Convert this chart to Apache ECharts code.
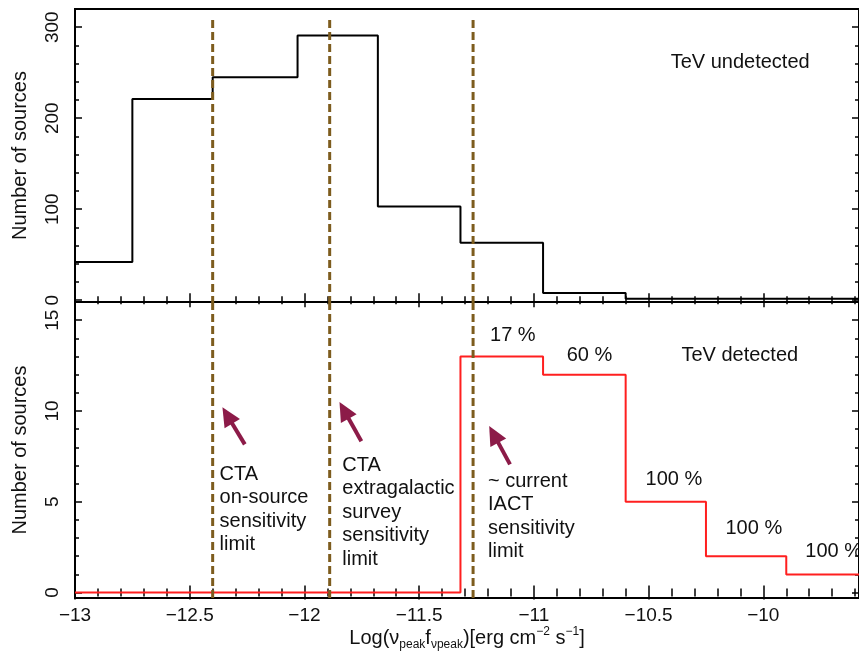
<!DOCTYPE html>
<html lang="en">
<head>
<meta charset="UTF-8">
<title>TeV detected / undetected</title>
<style>
body, div { margin: 0; padding: 0; }
#echart { width: 859px; height: 652px; background: #fff; }
</style>
</head>
<body>
<div id="echart"></div>
<script src="https://cdn.jsdelivr.net/npm/echarts@6/dist/echarts.min.js"></script>
<script>
// histogram bin edges (log nu f_nu) and counts
var undetectedEdges = [-13, -12.75, -12.4, -12.03, -11.68, -11.32, -10.96, -10.6, -9.5];
var undetectedCounts = [42, 221, 245, 291, 103, 63, 8, 1.5, 1.5];
var detectedEdges = [-13, -11.32, -10.96, -10.6, -10.25, -9.9, -9.5];
var detectedCounts = [0, 13, 12, 5, 2, 1, 1];

// sensitivity limits (dashed verticals)
var limitX = [-12.4, -11.89, -11.265];
var limitText = ['CTA\non-source\nsensitivity\nlimit',
                 'CTA\nextragalactic\nsurvey\nsensitivity\nlimit',
                 '~ current\nIACT\nsensitivity\nlimit'];

// fraction of sources detected per bin
var percentText = ['17 %', '60 %', '100 %', '100 %', '100 %'];

// tick labels
var xTicks = [-13, -12.5, -12, -11.5, -11, -10.5, -10];
var topYTicks = [0, 100, 200, 300];
var bottomYTicks = [0, 5, 10, 15];

// ---- layout bits (positions in data units) ----
var X_RANGE = [-13, -9.583];
var TOP_RANGE = [-2, 320];
var BOT_RANGE = [-0.3, 16];
var limitTextPos = [[-12.37, 7.17], [-11.835, 7.67], [-11.2, 6.78]];
var percentPos = [[-11.191, 14.78], [-10.857, 13.68], [-10.513, 6.89], [-10.165, 4.19], [-9.817, 2.92]];
var arrowFrom = [[-12.26, 8.16], [-11.752, 8.33], [-11.104, 7.06]];
var arrowTo = [[-12.336, 9.75], [-11.827, 10.03], [-11.175, 8.71]];

function minorTicks(lo, hi, step, majors) {
    var out = [];
    for (var v = lo; v <= hi + 1e-9; v += step) {
        var r = Math.round(v * 1000) / 1000;
        if (majors.indexOf(r) < 0) out.push(r);
    }
    return out;
}
var xMinor = minorTicks(-13, -9.6, 0.1, xTicks.concat([-9.5]));
var topMinor = minorTicks(0, 320, 20, topYTicks);
var botMinor = minorTicks(0, 16, 1, bottomYTicks);

var FONT = 'Liberation Sans';
var INK = '#111';
var minus = function (v) { return String(v).replace('-', '\u2212'); };

function tickAxis(grid, pos, range, values, len, extra) {
    var a = {
        type: 'value', gridIndex: grid, position: pos,
        min: range[0], max: range[1],
        axisLine: { show: false },
        splitLine: { show: false },
        axisTick: { show: true, inside: true, length: len, customValues: values,
                    lineStyle: { color: '#000', width: 1.5 } },
        axisLabel: { show: false }
    };
    return Object.assign(a, extra || {});
}

var xAxes = [], yAxes = [];
[0, 1].forEach(function (g) {
    var xLab = g === 1 ? {
        axisLabel: { show: true, customValues: xTicks, formatter: minus, fontFamily: FONT,
                     fontSize: 19, color: INK, margin: 8 },
        name: '{a|Log(\u03bd}{s|peak}{a|f}{s|\u03bdpeak}{a|)[erg cm}{p|\u22122}{a| s}{p|\u22121}{a|]}',
        nameLocation: 'middle', nameGap: 27,
        nameTextStyle: { rich: {
            a: { fontFamily: FONT, fontSize: 20, color: INK, lineHeight: 25 },
            s: { fontFamily: FONT, fontSize: 12, color: INK, lineHeight: 25, verticalAlign: 'bottom' },
            p: { fontFamily: FONT, fontSize: 12, color: INK, lineHeight: 25, verticalAlign: 'top' }
        } }
    } : {};
    xAxes.push(tickAxis(g, 'bottom', X_RANGE, xTicks, 7, xLab));
    xAxes.push(tickAxis(g, 'bottom', X_RANGE, xMinor, 4));
    xAxes.push(tickAxis(g, 'top', X_RANGE, xTicks, 7));
    xAxes.push(tickAxis(g, 'top', X_RANGE, xMinor, 4));

    var range = g === 0 ? TOP_RANGE : BOT_RANGE;
    var majors = g === 0 ? topYTicks : bottomYTicks;
    var minors = g === 0 ? topMinor : botMinor;
    yAxes.push(tickAxis(g, 'left', range, majors, 7, {
        axisLabel: { show: true, customValues: majors, rotate: 90, fontFamily: FONT,
                     fontSize: 19, color: INK, margin: 13 },
        name: 'Number of sources', nameLocation: 'middle', nameRotate: 90, nameGap: 45,
        nameTextStyle: { fontFamily: FONT, fontSize: 20, color: INK }
    }));
    yAxes.push(tickAxis(g, 'left', range, minors, 4));
    yAxes.push(tickAxis(g, 'right', range, majors, 7));
    yAxes.push(tickAxis(g, 'right', range, minors, 4));
});

function pairs(xs, ys) { return xs.map(function (x, i) { return [x, ys[i]]; }); }

var textStyle = { show: true, position: [0, 0], align: 'left', verticalAlign: 'top',
                  fontFamily: FONT, fontSize: 20, lineHeight: 23.5, color: INK,
                  opacity: 1, textBorderWidth: 0 };

var series = [
    { type: 'line', step: 'end', xAxisIndex: 0, yAxisIndex: 0, symbol: 'none',
      data: pairs(undetectedEdges, undetectedCounts),
      lineStyle: { color: '#000', width: 2 } },
    { type: 'line', step: 'end', xAxisIndex: 4, yAxisIndex: 4, symbol: 'none',
      data: pairs(detectedEdges, detectedCounts),
      lineStyle: { color: '#ff1f1f', width: 2 },
      markLine: {
          silent: true, symbol: ['none', 'triangle'], symbolSize: [18, 19],
          label: { show: false },
          itemStyle: { color: '#8c1b48' },
          lineStyle: { color: '#8c1b48', width: 4, type: 'solid' },
          data: arrowFrom.map(function (p, i) { return [{ coord: p }, { coord: arrowTo[i] }]; })
      } }
];

limitX.forEach(function (x) {
    series.push({ type: 'line', xAxisIndex: 0, yAxisIndex: 0, symbol: 'none',
        data: [[x, 308], [x, TOP_RANGE[0]]],
        lineStyle: { color: '#7d5c1e', width: 3, type: [8, 4] } });
    series.push({ type: 'line', xAxisIndex: 4, yAxisIndex: 4, symbol: 'none',
        data: [[x, BOT_RANGE[1]], [x, BOT_RANGE[0]]],
        lineStyle: { color: '#7d5c1e', width: 3, type: [8, 4] } });
});

var notes = [];
limitText.forEach(function (t, i) { notes.push({ value: limitTextPos[i], label: { formatter: t } }); });
percentText.forEach(function (t, i) { notes.push({ value: percentPos[i], label: { formatter: t } }); });
notes.push({ value: [-10.357, 13.68], label: { formatter: 'TeV detected' } });

series.push({ type: 'scatter', xAxisIndex: 4, yAxisIndex: 4, symbolSize: 0, silent: true,
    itemStyle: { color: '#000' }, label: textStyle, data: notes });
series.push({ type: 'scatter', xAxisIndex: 0, yAxisIndex: 0, symbolSize: 0, silent: true,
    itemStyle: { color: '#000' }, label: textStyle,
    data: [{ value: [-10.404, 274], label: { formatter: 'TeV undetected' } }] });

var myEchart = echarts.init(document.getElementById('echart'));
myEchart.setOption({
    animation: false,
    backgroundColor: '#fff',
    grid: [
        { left: 75, right: -2, top: 9, height: 293, show: true, borderColor: '#000', borderWidth: 2 },
        { left: 75, right: -2, top: 302, height: 296, show: true, borderColor: '#000', borderWidth: 2 }
    ],
    xAxis: xAxes,
    yAxis: yAxes,
    series: series
});
</script>
</body>
</html>
